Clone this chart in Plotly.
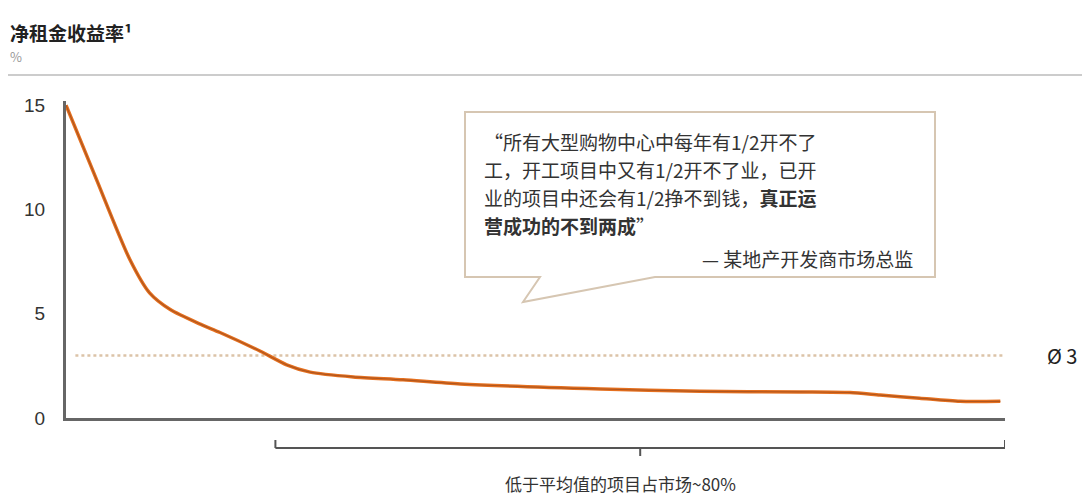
import plotly.graph_objects as go

# ---- data ----
project_pct = [0, 3.1, 6.8, 8.9, 11.1, 14.3, 16.4, 20.7, 23.5, 26.0, 30.6, 35.9,
               42.0, 56.9, 67.5, 78.2, 83.5, 86.7, 90.9, 95.2, 99.5]
net_yield = [15.0, 11.6, 7.6, 6.0, 5.2, 4.5, 4.1, 3.2, 2.55, 2.2, 1.97, 1.83,
             1.63, 1.39, 1.28, 1.25, 1.22, 1.1, 0.95, 0.8, 0.8]
avg_yield = 3
avg_start, avg_end = 1, 100
below_avg_start, below_avg_end = 22.3, 100
y_ticks = [0, 5, 10, 15]

title_text = "净租金收益率¹"
unit_text = "%"
quote_lines = [
    "“所有大型购物中心中每年有1/2开不了",
    "工，开工项目中又有1/2开不了业，已开",
    "业的项目中还会有1/2挣不到钱，<b>真正运</b>",
    "<b>营成功的不到两成</b>”",
]
quote_source = "— 某地产开发商市场总监"
bracket_label = "低于平均值的项目占市场~80%"

# ---- layout geometry (page pixels; page body has an 8px margin) ----
OFF = 8
W, H = 1090 - OFF, 498 - OFF
PLOT_L, PLOT_R, PLOT_T, PLOT_B = 66, 1005, 101, 418   # page pixels
L = PLOT_L - OFF
R = W - (PLOT_R - OFF)
T = PLOT_T - OFF
B = H - (PLOT_B - OFF)
PW, PH = W - L - R, H - T - B


def px(x):
    return (x - OFF - L) / PW


def py(y):
    return (H - B - (y - OFF)) / PH


FONT = "Noto Sans CJK SC, Noto Sans, sans-serif"

fig = go.Figure()

# average dotted line
fig.add_trace(go.Scatter(
    x=[avg_start, avg_end], y=[avg_yield, avg_yield], mode="lines",
    line=dict(color="#dcc3a8", width=2.5, dash="dot"), hoverinfo="skip",
))

# main curve
fig.add_trace(go.Scatter(
    x=project_pct, y=net_yield, mode="lines",
    line=dict(color="#e5701f", width=3.5, shape="spline", smoothing=0.7),
))
fig.add_trace(go.Scatter(
    x=project_pct, y=net_yield, mode="lines",
    line=dict(color="#b0561e", width=1.2, shape="spline", smoothing=0.7),
    hoverinfo="skip",
))

shapes = []
# header rule
shapes.append(dict(type="line", xref="paper", yref="paper",
                   x0=px(8), x1=px(1090), y0=py(75), y1=py(75),
                   line=dict(color="#cccccc", width=2)))
# speech bubble
pts = [(465, 112), (935, 112), (935, 277), (655, 277), (523, 302), (540, 277), (465, 277)]
path = "M " + " L ".join(f"{px(a):.5f},{py(b):.5f}" for a, b in pts) + " Z"
shapes.append(dict(type="path", xref="paper", yref="paper", path=path,
                   fillcolor="white", line=dict(color="#d6c6b2", width=2), layer="above"))
# bracket
by = py(448)
shapes.append(dict(type="line", xref="x", yref="paper",
                   x0=below_avg_start, x1=below_avg_end, y0=by, y1=by,
                   line=dict(color="#555555", width=2)))
for xe in (below_avg_start, below_avg_end):
    shapes.append(dict(type="line", xref="x", yref="paper",
                       x0=xe, x1=xe, y0=by, y1=py(440),
                       line=dict(color="#555555", width=2)))
mid = (below_avg_start + below_avg_end) / 2
shapes.append(dict(type="line", xref="x", yref="paper",
                   x0=mid, x1=mid, y0=by, y1=py(456),
                   line=dict(color="#555555", width=2)))

annotations = []
annotations.append(dict(xref="paper", yref="paper", x=px(8), y=py(32),
                        xanchor="left", yanchor="middle", showarrow=False,
                        text=f"<b>{title_text}</b>",
                        font=dict(family=FONT, size=19, color="#222222")))
annotations.append(dict(xref="paper", yref="paper", x=px(8), y=py(57),
                        xanchor="left", yanchor="middle", showarrow=False,
                        text=unit_text, font=dict(family=FONT, size=13, color="#999999")))
for t, yy in zip(quote_lines, [141, 169, 197, 225]):
    annotations.append(dict(xref="paper", yref="paper", x=px(482), y=py(yy),
                            xanchor="left", yanchor="middle", showarrow=False,
                            text=t, font=dict(family=FONT, size=19, color="#333333")))
annotations.append(dict(xref="paper", yref="paper", x=px(915), y=py(258),
                        xanchor="right", yanchor="middle", showarrow=False,
                        text=quote_source, font=dict(family=FONT, size=19, color="#333333")))
annotations.append(dict(xref="paper", yref="y", x=px(1062), y=avg_yield,
                        xanchor="center", yanchor="middle", showarrow=False,
                        text=f"Ø {avg_yield}", font=dict(family=FONT, size=20, color="#222222")))
annotations.append(dict(xref="paper", yref="paper", x=px(620), y=py(483),
                        xanchor="center", yanchor="middle", showarrow=False,
                        text=bracket_label, font=dict(family=FONT, size=17, color="#333333")))

fig.update_layout(
    width=W, height=H,
    margin=dict(l=L, r=R, t=T, b=B),
    paper_bgcolor="white", plot_bgcolor="white",
    showlegend=False,
    shapes=shapes, annotations=annotations,
    font=dict(family=FONT),
)
fig.update_xaxes(range=[0, 100], showgrid=False, zeroline=False,
                 showticklabels=False, ticks="",
                 showline=True, linecolor="#666666", linewidth=3)
fig.update_yaxes(range=[0, 15.2], showgrid=False, zeroline=False,
                 tickvals=y_ticks, ticks="", ticklabelstandoff=14,
                 tickfont=dict(family="Liberation Sans, Arial, sans-serif", size=19, color="#333333"),
                 showline=True, linecolor="#666666", linewidth=3)

fig.write_html("out.html")
